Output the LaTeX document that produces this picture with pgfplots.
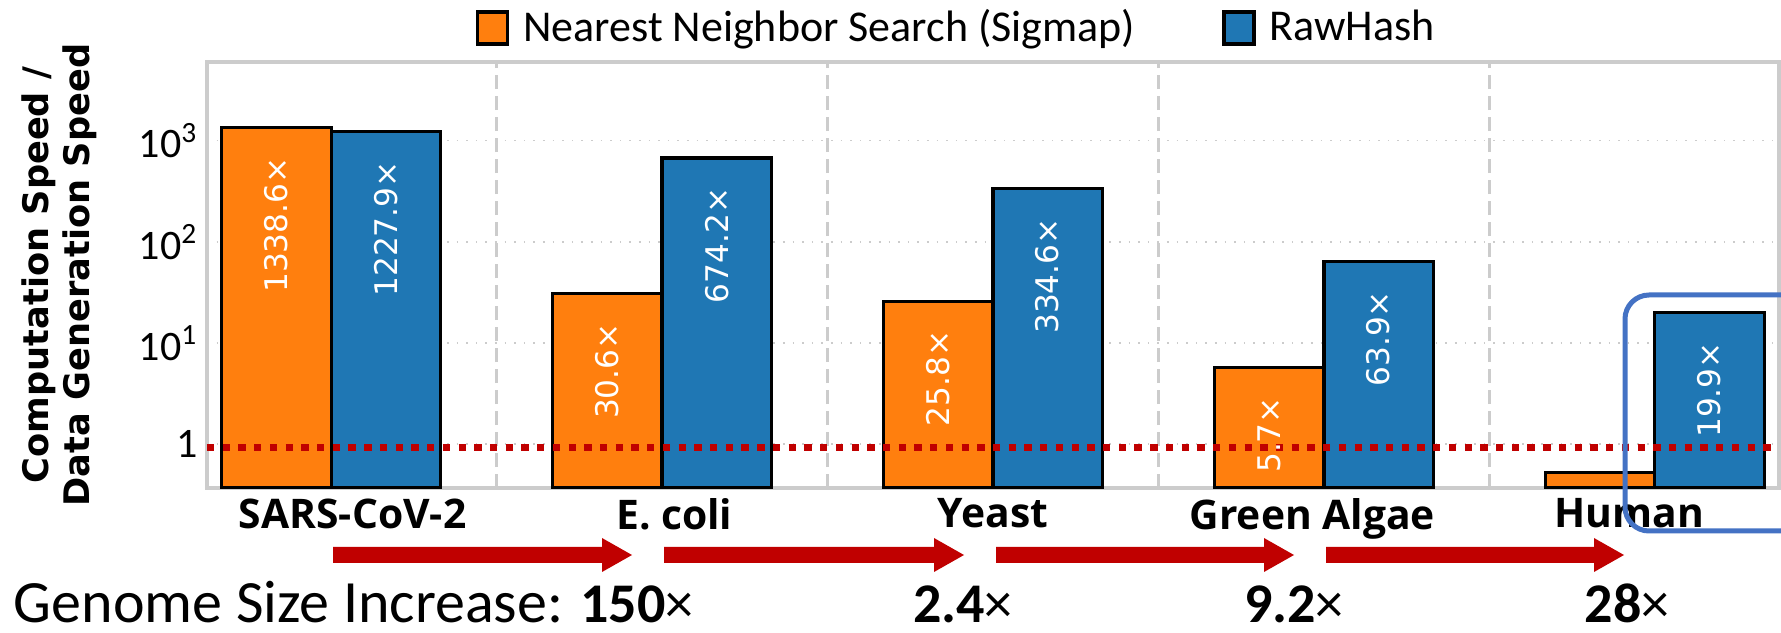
\documentclass[border=0pt]{standalone}
\usepackage{pgfplots}
\pgfplotsset{compat=1.18}
\usepackage{fontspec}
\setmainfont{Carlito}
\newfontfamily\osfont{Open Sans}
\newfontfamily\djfont{DejaVu Sans}
\definecolor{myorange}{HTML}{FF7F0E}
\definecolor{myblue}{HTML}{1F77B4}
\definecolor{darkred}{HTML}{C00000}
\definecolor{boxblue}{HTML}{4472C4}
\definecolor{framegray}{HTML}{CCCCCC}
\pgfplotsset{
  sqlegend/.style={legend image code/.code={\draw[##1, line width=0.9pt] (0pt,-4pt) rectangle (7.5pt,4pt);}},
  barlab/.style={nodes near coords, point meta=explicit symbolic,
    nodes near coords style={font=\djfont\fontsize{7.8}{9}\selectfont, text=white, xshift=#1, yshift=-7pt, rotate=90, anchor=east, inner sep=0pt}},
}
\begin{document}
\begin{tikzpicture}
\useasboundingbox (-51.75pt,-36.25pt) rectangle (393.5pt,122pt);
\begin{axis}[
  at={(0,0)}, anchor=south west,
  scale only axis, width=393pt, height=106.5pt,
  ymode=log, ymin=0.366, ymax=6000,
  xmin=-0.375, xmax=4.375,
  log origin=infty,
  xtick={0.065,1.037,2.0,2.965,3.923},
  xticklabels={SARS-CoV-2, E. coli, Yeast, Green Algae, Human},
  xticklabel style={font=\osfont\bfseries\fontsize{10.2}{12}\selectfont, inner sep=0pt, anchor=north, yshift=-2.5pt},
  ytick={1,10,100,1000},
  yticklabels={1,10\textsuperscript{1},10\textsuperscript{2},10\textsuperscript{3}},
  yticklabel style={font=\fontsize{10.5}{12}\selectfont, inner sep=0pt, anchor=east, xshift=-2pt},
  major tick length=0pt, minor tick length=0pt,
  ymajorgrids,
  y grid style={framegray, dotted, line width=0.4pt},
  extra x ticks={0.5,1.5,2.5,3.5}, extra x tick labels={},
  extra x tick style={grid=major, major grid style={framegray, dash pattern=on 3.5pt off 1.75pt, line width=0.8pt}},
  axis line style={framegray, line width=0.8pt},
  legend columns=2,
  legend style={at={(0.476,1.08)}, anchor=center, draw=none, fill=none,
    font=\fontsize{11}{13}\selectfont, inner sep=0pt,
    nodes={inner sep=0pt},
    /tikz/every odd column/.append style={column sep=3.5pt},
    /tikz/every even column/.append style={column sep=21.75pt}},
]
\addplot[ybar, bar width=0.33, bar shift=-0.165, fill=myorange, draw=black, line width=0.8pt, sqlegend, barlab=-13.65pt]
  coordinates {(0,1338.6) [1338.6×] (1,30.6) [30.6×] (2,25.8) [25.8×] (3,5.7) [5.7×] (4,0.52) [{}]};
\addlegendentry{Nearest Neighbor Search (Sigmap)}
\addplot[ybar, bar width=0.33, bar shift=0.165, fill=myblue, draw=black, line width=0.8pt, sqlegend, barlab=13.65pt]
  coordinates {(0,1227.9) [1227.9×] (1,674.2) [674.2×] (2,334.6) [334.6×] (3,63.9) [63.9×] (4,19.9) [19.9×]};
\addlegendentry{RawHash}
\addplot[darkred, line width=1.83pt, dash pattern=on 1.83pt off 2.1pt, forget plot]
  coordinates {(-0.375,0.92) (4.375,0.92)};
\end{axis}
% arrows
\foreach \xa/\xb in {31.5/106.25, 114.25/189.25, 197.25/271.75, 279.75/354.25}{
  \fill[darkred] (\xa pt,-14.75pt) -- (\xb pt-7.5pt,-14.75pt) -- (\xb pt-7.5pt,-12.5pt) -- (\xb pt,-16.75pt)
     -- (\xb pt-7.5pt,-21pt) -- (\xb pt-7.5pt,-18.75pt) -- (\xa pt,-18.75pt) -- cycle;
}
\node[anchor=base west, inner sep=0pt] at (-48.5pt,-33.75pt) {\fontsize{15}{18}\selectfont Genome Size Increase:};
\foreach \xx/\tt in {107.5/150, 189/2.4, 271.75/9.2, 355/28}{
  \node[anchor=base, inner sep=0pt] at (\xx pt,-33.75pt) {\fontsize{14}{17}\selectfont\textbf{\tt}×};
}
\node[rotate=90, align=center, font=\djfont\bfseries\fontsize{8.8}{10.2}\selectfont] at (-37pt,53.25pt) {Computation Speed /\\Data Generation Speed};
\draw[boxblue, line width=1.25pt, rounded corners=6pt] (354.5pt,-10.75pt) rectangle (402pt,48.25pt);
\end{tikzpicture}
\end{document}
